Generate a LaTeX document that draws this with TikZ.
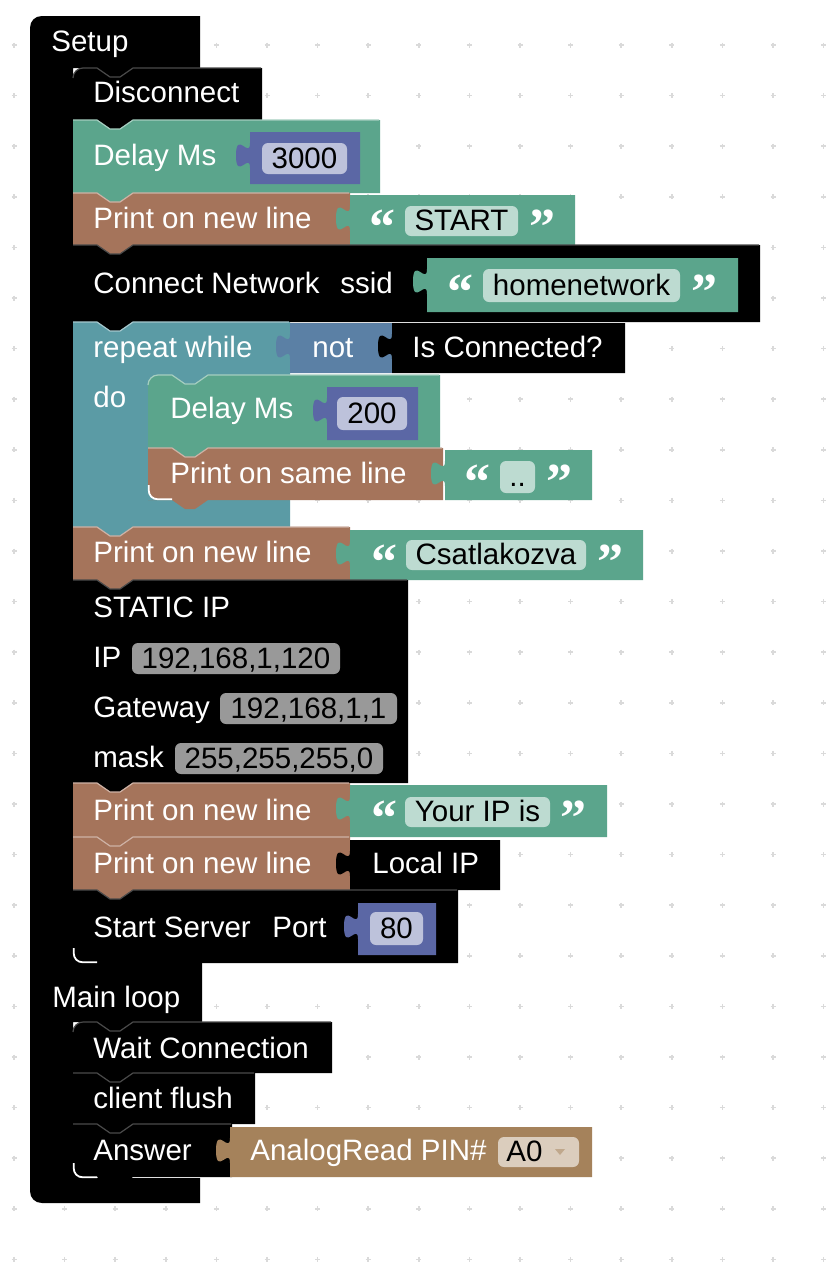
\documentclass[tikz,border=0pt]{standalone}
\usepackage{fontspec}
\setmainfont{Liberation Sans}
\newfontfamily\qfont{Liberation Serif}
\definecolor{cgreen}{HTML}{5BA58C}
\definecolor{cbrown}{HTML}{A5745B}
\definecolor{cnum}{HTML}{5B67A5}
\definecolor{cteal}{HTML}{5B9BA5}
\definecolor{clogic}{HTML}{5B80A5}
\definecolor{ctan}{HTML}{A5825B}
\definecolor{fgreen}{HTML}{BDDBD1}
\definecolor{fnum}{HTML}{BDC2DB}
\definecolor{fgray}{HTML}{999999}
\definecolor{ftan}{HTML}{DBCDBD}
\definecolor{dotc}{HTML}{DADADA}
\definecolor{hlblack}{HTML}{4A4A4A}
\tikzset{
  lbl/.style={anchor=base west, inner sep=0pt, text=white, font=\fontsize{14.75}{17}\selectfont},
  ftxt/.style={anchor=base, inner sep=0pt, text=black, font=\fontsize{14.75}{17}\selectfont},
  qt/.style={anchor=base west, inner sep=0pt, text=white, font=\qfont\bfseries\fontsize{26}{26}\selectfont},
  hlw/.style={line width=0.6pt}
}
% statement block: L T R B radius fill highlight
\newcommand{\stmtblk}[7]{%
  \fill[#6] (#1,#2+#5) .. controls (#1,#2+0.45*#5) and (#1+0.45*#5,#2) .. (#1+#5,#2) -- (#1+24,#2) -- (#1+37,#2+9) -- (#1+47,#2+9) -- (#1+60,#2) -- (#3,#2) -- (#3,#4) -- (#1+60,#4) -- (#1+47,#4+9) -- (#1+37,#4+9) -- (#1+24,#4) -- (#1,#4) -- cycle;
  \draw[#7, hlw] (#1,#2+#5) .. controls (#1,#2+0.45*#5) and (#1+0.45*#5,#2) .. (#1+#5,#2) -- (#1+24,#2) -- (#1+37,#2+9) -- (#1+47,#2+9) -- (#1+60,#2) -- (#3-1,#2);
}
% value block: L T R B fill
\newcommand{\valblk}[5]{%
  \fill[#5] (#1,#2) -- (#3,#2) -- (#3,#4) -- (#1,#4) -- (#1,#2+36) .. controls (#1,#2+19.35) and (#1-14,#2+49.4) .. (#1-14,#2+23.5) .. controls (#1-14,#2-2.4) and (#1,#2+27.7) .. (#1,#2+11) -- cycle;
}
% field: x1 y1 x2 y2 fill text name
\newcommand{\fieldbox}[7]{%
  \fill[#5, rounded corners=3pt] (#1,#2) rectangle (#3,#4);
  \node[ftxt] (#7) at ({(#1+#3)/2},{(#2+#4)/2+9.5}) {#6};
}
% quotes: xleft xright centerY name
\newcommand{\qmarks}[4]{%
  \node[qt] (#4l) at (#1-1,#3+24) {“};
  \node[qt] (#4r) at (#2-1,#3+24) {”};
}
% inner corner of a C block: x y colour
\newcommand{\innercorner}[3]{%
  \fill[#3] (#1,#2-10) .. controls (#1,#2-4.5) and (#1+4.5,#2) .. (#1+10,#2) -- (#1,#2) -- cycle;
  \draw[white, line width=0.9pt] (#1+0.7,#2-15) -- (#1+0.7,#2-10) .. controls (#1+0.7,#2-4.5) and (#1+4.5,#2-0.7) .. (#1+10,#2-0.7) -- (#1+24,#2-0.7);
}
\begin{document}
\begin{tikzpicture}[x=0.5pt,y=-0.5pt]
\useasboundingbox (0,0) rectangle (835,1280);
\fill[white] (0,0) rectangle (835,1280);
% grid
\foreach \i in {0,...,16}{
  \foreach \j in {0,...,24}{
    \draw[dotc, line width=0.75pt] (14+50.6*\i-2.5,45+50.6*\j) -- ++(5,0);
    \draw[dotc, line width=0.75pt] (14+50.6*\i,45+50.6*\j-2.5) -- ++(0,5);
  }
}
% Setup / Main loop C block
\fill[black] (30,28) .. controls (30,21) and (35,16) .. (42,16) -- (200,16) -- (200,68) -- (133,68) -- (120,77) -- (110,77) -- (97,68) -- (73,68) -- (73,963) -- (202,963) -- (202,1022) -- (133,1022) -- (120,1031) -- (110,1031) -- (97,1022) -- (73,1022) -- (73,1178) -- (200,1178) -- (200,1203) -- (42,1203) .. controls (35,1203) and (30,1198) .. (30,1191) -- cycle;
\node[lbl] (setup) at (51,51) {Setup};
\node[lbl] (mainloop) at (52,1007) {Main loop};

% Disconnect
\stmtblk{73}{68}{262}{120}{10}{black}{hlblack}
\node[lbl] (disc) at (93,102) {Disconnect};
% Delay 3000
\stmtblk{73}{120}{380}{193}{0}{cgreen}{cgreen!55!white}
\node[lbl] (delay1) at (93,165) {Delay Ms};
\valblk{250}{132}{360}{184}{cnum}
\fieldbox{262}{143}{347}{174}{fnum}{3000}{n3000}
% Print START
\stmtblk{73}{193}{350}{245}{0}{cbrown}{cbrown!55!white}
\node[lbl] (print1) at (93,228) {Print on new line};
\valblk{350}{195}{575}{245}{cgreen}
\qmarks{370}{530}{220}{qstart}
\fieldbox{405}{206}{518}{236}{fgreen}{START}{fstart}
% Connect Network
\stmtblk{73}{245}{760}{322}{0}{black}{hlblack}
\node[lbl] (connect) at (93,293) {Connect Network};
\node[lbl] (ssid) at (340,293) {ssid};
\valblk{427}{258}{738}{312}{cgreen}
\qmarks{448}{692}{285}{qhome}
\fieldbox{483}{269}{680}{302}{fgreen}{homenetwork}{fhome}
% repeat while
\stmtblk{73}{322}{290}{527}{0}{cteal}{cteal!55!white}
\node[lbl] (repeat) at (93,357) {repeat while};
\node[lbl] (do) at (93,407) {do};
\valblk{290}{323}{392}{373}{clogic}
\node[lbl] (not) at (312,357) {not};
\valblk{392}{323}{625}{373}{black}
\node[lbl] (isconn) at (412,357) {Is Connected?};
\stmtblk{148}{375}{440}{448}{10}{cgreen}{cgreen!55!white}
\node[lbl] (delay2) at (170,418) {Delay Ms};
\valblk{327}{387}{418}{440}{cnum}
\fieldbox{337}{397}{407}{430}{fnum}{200}{n200}
\stmtblk{148}{448}{443}{500}{0}{cbrown}{cbrown!55!white}
\node[lbl] (printsame) at (170,483) {Print on same line};
\valblk{445}{450}{592}{500}{cgreen}
\qmarks{465}{547}{475}{qdots}
\fieldbox{500}{461}{535}{493}{fgreen}{..}{fdots}
\innercorner{148}{500}{cteal}
% Print Csatlakozva
\stmtblk{73}{527}{350}{580}{0}{cbrown}{cbrown!55!white}
\node[lbl] (print2) at (93,562) {Print on new line};
\valblk{350}{530}{643}{580}{cgreen}
\qmarks{372}{598}{555}{qcsat}
\fieldbox{406}{540}{586}{570}{fgreen}{Csatlakozva}{fcsat}
% STATIC IP
\stmtblk{73}{580}{408}{783}{0}{black}{hlblack}
\node[lbl] (static) at (93,617) {STATIC IP};
\node[lbl] (ip) at (93,667) {IP};
\node[lbl] (gw) at (93,717) {Gateway};
\node[lbl] (mask) at (93,767) {mask};
\fieldbox{132}{643}{340}{674}{fgray}{192,168,1,120}{fip}
\fieldbox{220}{693}{397}{724}{fgray}{192,168,1,1}{fgw}
\fieldbox{175}{743}{383}{774}{fgray}{255,255,255,0}{fmask}
% Print Your IP is
\stmtblk{73}{783}{350}{837}{0}{cbrown}{cbrown!55!white}
\node[lbl] (print3) at (93,820) {Print on new line};
\valblk{350}{785}{607}{837}{cgreen}
\qmarks{372}{561}{811}{qyour}
\fieldbox{405}{797}{550}{827}{fgreen}{Your IP is}{fyour}
% Print Local IP
\stmtblk{73}{837}{350}{890}{0}{cbrown}{cbrown!55!white}
\node[lbl] (print4) at (93,873) {Print on new line};
\valblk{350}{840}{500}{890}{black}
\node[lbl] (localip) at (372,873) {Local IP};
% Start Server
\stmtblk{73}{890}{458}{963}{0}{black}{hlblack}
\node[lbl] (start) at (93,937) {Start Server};
\node[lbl] (port) at (272,937) {Port};
\valblk{358}{903}{436}{955}{cnum}
\fieldbox{370}{912}{423}{945}{fnum}{80}{n80}
\innercorner{73}{963}{black}
% Main loop contents
\stmtblk{73}{1022}{332}{1073}{10}{black}{hlblack}
\node[lbl] (wait) at (93,1058) {Wait Connection};
\stmtblk{73}{1073}{255}{1124}{0}{black}{hlblack}
\node[lbl] (flush) at (93,1108) {client flush};
\stmtblk{73}{1124}{232}{1177}{0}{black}{hlblack}
\node[lbl] (answer) at (93,1160) {Answer};
\valblk{230}{1127}{592}{1177}{ctan}
\node[lbl] (analog) at (250,1160) {AnalogRead PIN\#};
\fill[ftan, rounded corners=3pt] (498,1137) rectangle (579,1167);
\node[ftxt, anchor=base west] (a0) at (506,1161.5) {A0};
\fill[ctan!70!white] (555,1149) -- (565,1149) -- (560,1155) -- cycle;
\innercorner{73}{1178}{black}
\end{tikzpicture}
\end{document}
